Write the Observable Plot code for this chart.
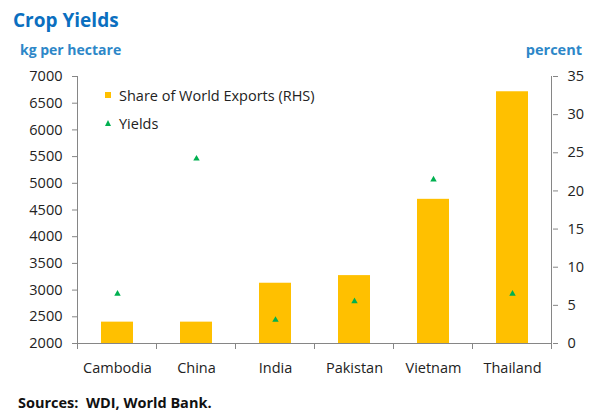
<!DOCTYPE html>
<html>
<head>
<meta charset="utf-8">
<script src="https://cdn.jsdelivr.net/npm/d3@7"></script>
<script src="https://cdn.jsdelivr.net/npm/@observablehq/plot@0.6"></script>
<style>
  body { margin: 0; background: #fff; font-family: "Open Sans", sans-serif; }
  #wrap { position: relative; width: 592px; height: 415px; overflow: hidden; }
  #wrap svg.plot { position: absolute; left: 0; top: 0; }
  .abs { position: absolute; white-space: nowrap; }
  #title { left: 13px; top: 7px; font-size: 19px; font-weight: 700; color: #0B6FC0; }
  #ylab { left: 20px; top: 40px; font-size: 14px; font-weight: 700; color: #2D87C8; }
  #rlab { right: 10px; top: 40px; font-size: 14.5px; font-weight: 700; color: #2D87C8; }
  #source { left: 18px; top: 393px; font-size: 14.5px; font-weight: 700; color: #111; }
  .leg { font-size: 14.5px; color: #222; }
  .sw { position: absolute; }
</style>
</head>
<body>
<div id="wrap">
  <div id="title" class="abs">Crop Yields</div>
  <div id="ylab" class="abs">kg per hectare</div>
  <div id="rlab" class="abs">percent</div>
  <div id="source" class="abs">Sources:&nbsp; WDI, World Bank.</div>
</div>
<script>
const categories = ["Cambodia", "China", "India", "Pakistan", "Vietnam", "Thailand"];
const exportShare = [2.8, 2.8, 7.9, 8.9, 18.9, 33.0];   // % (RHS)
const yields = [2930, 5460, 2440, 2790, 5070, 2930];     // kg per hectare (LHS)
const yieldTicks = [2000, 2500, 3000, 3500, 4000, 4500, 5000, 5500, 6000, 6500, 7000];
const shareTicks = [0, 5, 10, 15, 20, 25, 30, 35];
const seriesNames = ["Share of World Exports (RHS)", "Yields"];

const yieldMin = yieldTicks[0], yieldMax = yieldTicks[yieldTicks.length - 1];
const shareMax = shareTicks[shareTicks.length - 1];
const toShare = v => (v - yieldMin) / (yieldMax - yieldMin) * shareMax;

const data = categories.map((c, i) => ({cat: c, share: exportShare[i], yield: yields[i]}));
const axisColor = "#868686";
const textColor = "#222";

const plot = Plot.plot({
  width: 592,
  height: 415,
  marginLeft: 77,
  marginRight: 40,
  marginTop: 76,
  marginBottom: 72,
  style: {fontFamily: "'Open Sans', sans-serif", fontSize: "14.5px", color: textColor, background: "transparent"},
  x: {domain: categories, paddingInner: 0.6, paddingOuter: 0.3, axis: null},
  y: {domain: [0, shareMax], axis: null},
  marks: [
    Plot.barY(data, {x: "cat", y: "share", fill: "#FFC000"}),
    Plot.dot(data, {x: "cat", y: d => toShare(d.yield), symbol: "triangle", fill: "#00B050", r: 2.4}),
    Plot.axisY(yieldTicks.map(toShare), {anchor: "left", tickSize: 5, tickPadding: 10, stroke: axisColor, fill: textColor,
      tickFormat: d => String(Math.round(yieldMin + d / shareMax * (yieldMax - yieldMin))), label: null}),
    Plot.axisY(shareTicks, {anchor: "right", tickSize: 5, tickPadding: 10, stroke: axisColor, fill: textColor, label: null}),
    Plot.axisX(categories, {anchor: "bottom", tickSize: 0, tickPadding: 19, fill: textColor, label: null}),
    Plot.ruleY([0], {stroke: axisColor})
  ]
});
plot.classList.add("plot");
document.getElementById("wrap").prepend(plot);

// axis lines and category boundary ticks
const xs = plot.scale("x"), ys = plot.scale("y");
const gap = (xs.step - xs.bandwidth) / 2;
const bounds = categories.map(c => xs.apply(c) - gap);
bounds.push(xs.apply(categories[categories.length - 1]) + xs.bandwidth + gap);
const y0 = ys.apply(0), y1 = ys.apply(shareMax);
const svg = d3.select(plot);
const g = svg.append("g").attr("stroke", axisColor).attr("stroke-width", 1);
g.append("line").attr("x1", bounds[0]).attr("x2", bounds[0]).attr("y1", y0).attr("y2", y1);
g.append("line").attr("x1", bounds[6]).attr("x2", bounds[6]).attr("y1", y0).attr("y2", y1);
bounds.forEach(b => g.append("line").attr("x1", b).attr("x2", b).attr("y1", y0).attr("y2", y0 + 6));

// legend
const wrap = document.getElementById("wrap");
const legX = 105;
const leg = [
  {name: seriesNames[0], top: 86, sw: '<div style="width:6px;height:6px;background:#FFC000"></div>', swTop: 92},
  {name: seriesNames[1], top: 114, sw: '<div style="width:0;height:0;border-left:3.5px solid transparent;border-right:3.5px solid transparent;border-bottom:6px solid #00B050"></div>', swTop: 120}
];
leg.forEach(l => {
  const s = document.createElement("div");
  s.className = "sw"; s.style.left = legX + "px"; s.style.top = l.swTop + "px"; s.innerHTML = l.sw;
  wrap.appendChild(s);
  const t = document.createElement("div");
  t.className = "abs leg"; t.style.left = (legX + 14) + "px"; t.style.top = l.top + "px"; t.textContent = l.name;
  wrap.appendChild(t);
});
</script>
</body>
</html>
